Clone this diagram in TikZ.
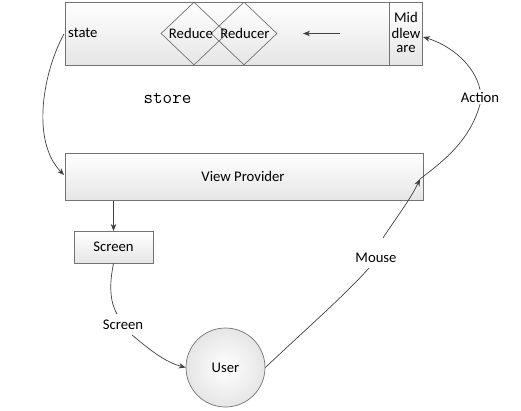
\documentclass[tikz,border=0pt]{standalone}
\usepackage{fontspec}
\setmainfont{Carlito}
\usetikzlibrary{shapes.geometric,arrows.meta}
\begin{document}
\begin{tikzpicture}[x=1pt,y=-1pt,
  font=\fontsize{14.7}{16}\selectfont,
  boxstyle/.style={draw=black!55, line width=0.7pt, top color=white, bottom color=black!10, inner sep=0pt},
  dia/.style={draw=black!55, line width=0.7pt, shape=diamond, inner sep=0pt, minimum width=66pt, minimum height=63pt},
  conn/.style={draw=black!75, line width=0.7pt},
  arr/.style={conn, -{Stealth[length=7pt,width=5.5pt]}},
  lbl/.style={inner sep=2pt}
]
\useasboundingbox (0,0) rectangle (521,411);
% store
\node[boxstyle, minimum width=324pt, minimum height=63pt, anchor=north west] (store) at (65,2) {};
\node[boxstyle, minimum width=33pt, minimum height=63pt, anchor=north west] (mw) at (389,2) {};
\node (mw1) at (406,17) {Mid};
\node (mw2) at (406,33) {dlew};
\node (mw3) at (406,49) {are};
\node[dia] (d1) at (194,33.5) {};
\node[dia] (d2) at (244,33.5) {};
\node (t1) at (191,33) {Reduce};
\node (t2) at (245,33) {Reducer};
\node[anchor=west, inner sep=0pt] (state) at (68,33) {state};
\coordinate (aS) at (340,33.5);
\coordinate (aE) at (303,33.5);
\draw[arr] (aS) -- (aE);
\node (storelbl) at (167.5,98) {\ttfamily\fontsize{18.5}{18}\selectfont store};
% view provider
\node[boxstyle, minimum width=358pt, minimum height=47pt, anchor=north west] (vp) at (65,153) {};
\node (vpt) at (243,176) {View Provider};
% screen
\node[boxstyle, minimum width=79pt, minimum height=32pt, anchor=north west] (scr) at (74,231) {};
\node (scrt) at (113.5,247) {Screen};
% user
\node[draw=black!55, line width=0.7pt, circle, minimum size=79pt, inner sep=0pt, inner color=white, outer color=black!10] (user) at (225.5,367.5) {User};
% labels
\node[lbl] (lAction) at (480,97) {Action};
\node[lbl] (lMouse) at (376,258) {Mouse};
\node[lbl] (lScreen) at (123,325) {Screen};
\coordinate (vpA) at (420,179);
\coordinate (mwA) at (423,37);
\coordinate (stS) at (64,34);
\coordinate (vpW) at (64,175);
\coordinate (scrIn) at (117,314);
\coordinate (scrOut) at (132,335);
\coordinate (msIn) at (369,268);
\coordinate (msOut) at (383,238);
% connectors
\draw[arr] (stS) .. controls (44,70) and (30,140) .. (vpW);
\draw[arr] (vp.south -| scrt) -- (scr.north -| scrt);
\draw[conn] (scr.south -| scrt) .. controls (109,285) and (110,302) .. (scrIn);
\draw[arr] (scrOut) .. controls (150,350) and (165,362) .. (user.west);
\draw[conn] (user.east) .. controls (305,330) and (345,295) .. (msIn);
\draw[arr] (msOut) .. controls (398,215) and (410,200) .. (vpA);
\draw[conn] (vpA) .. controls (445,160) and (470,140) .. (lAction.south);
\draw[arr] (lAction.north) .. controls (475,65) and (450,45) .. (mwA);
\end{tikzpicture}
\end{document}
